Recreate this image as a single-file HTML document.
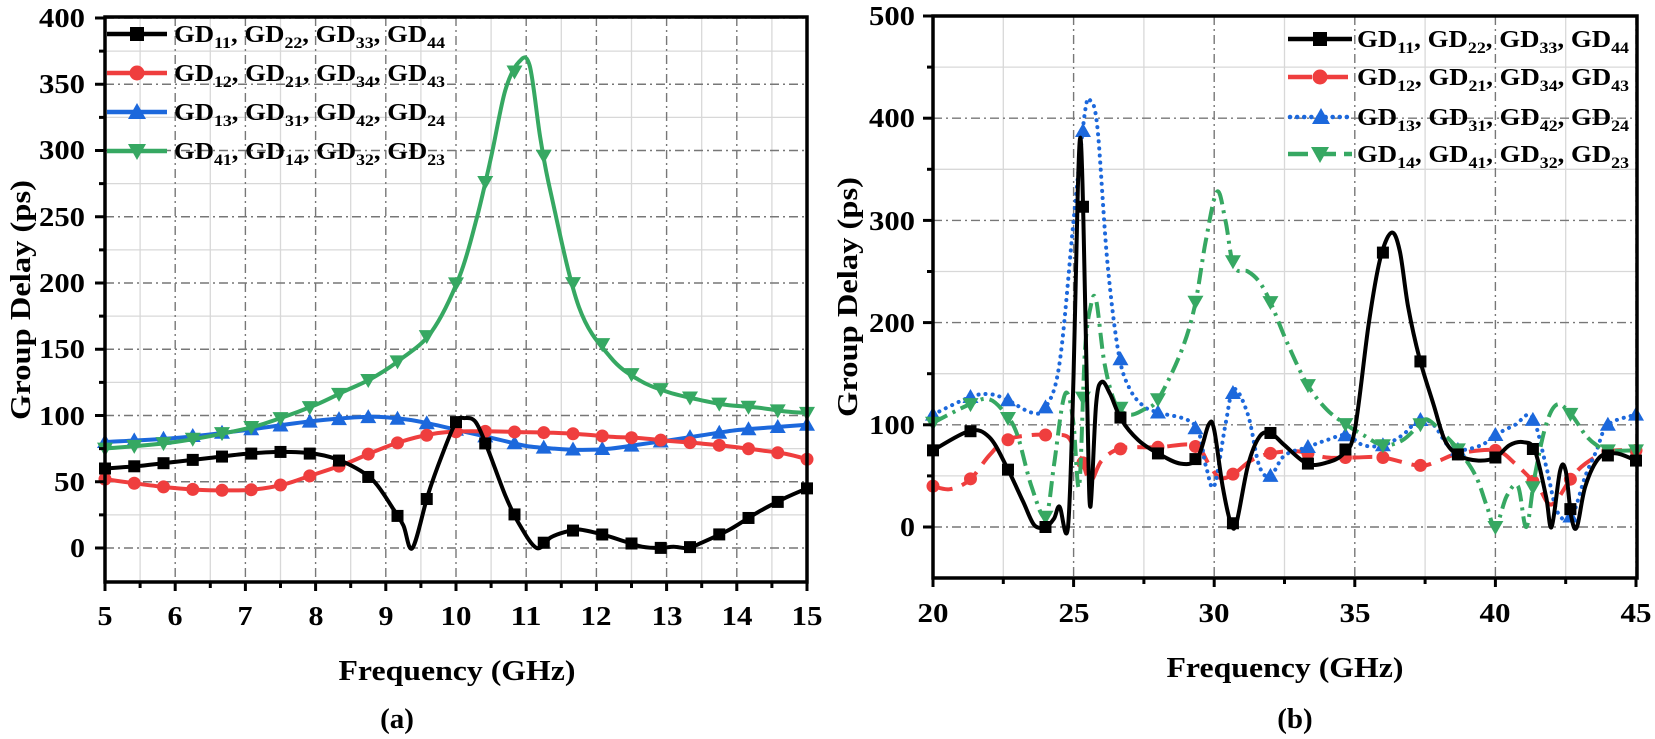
<!DOCTYPE html>
<html><head><meta charset="utf-8"><style>
html,body{margin:0;padding:0;background:#fff;}
svg{display:block;}
text{font-family:"Liberation Serif","Times New Roman",serif;font-weight:bold;fill:#000;}
</style></head><body>
<svg id="s" width="1655" height="739" viewBox="0 0 1655 739" xmlns="http://www.w3.org/2000/svg">
<g id="grid"></g>
<g id="series"></g>
<g id="axes"></g>
<g font-size="27" text-anchor="end">
<text x="85" y="27" textLength="46" lengthAdjust="spacingAndGlyphs">400</text>
<text x="85" y="93" textLength="46" lengthAdjust="spacingAndGlyphs">350</text>
<text x="85" y="159" textLength="46" lengthAdjust="spacingAndGlyphs">300</text>
<text x="85" y="226" textLength="46" lengthAdjust="spacingAndGlyphs">250</text>
<text x="85" y="292" textLength="46" lengthAdjust="spacingAndGlyphs">200</text>
<text x="85" y="358" textLength="46" lengthAdjust="spacingAndGlyphs">150</text>
<text x="85" y="425" textLength="46" lengthAdjust="spacingAndGlyphs">100</text>
<text x="85" y="491" textLength="31" lengthAdjust="spacingAndGlyphs">50</text>
<text x="85" y="557" textLength="15" lengthAdjust="spacingAndGlyphs">0</text>
</g>
<g font-size="27" text-anchor="middle">
<text x="105" y="625" textLength="15" lengthAdjust="spacingAndGlyphs">5</text>
<text x="175" y="625" textLength="15" lengthAdjust="spacingAndGlyphs">6</text>
<text x="245" y="625" textLength="15" lengthAdjust="spacingAndGlyphs">7</text>
<text x="316" y="625" textLength="15" lengthAdjust="spacingAndGlyphs">8</text>
<text x="386" y="625" textLength="15" lengthAdjust="spacingAndGlyphs">9</text>
<text x="456" y="625" textLength="31" lengthAdjust="spacingAndGlyphs">10</text>
<text x="526" y="625" textLength="31" lengthAdjust="spacingAndGlyphs">11</text>
<text x="596" y="625" textLength="31" lengthAdjust="spacingAndGlyphs">12</text>
<text x="667" y="625" textLength="31" lengthAdjust="spacingAndGlyphs">13</text>
<text x="737" y="625" textLength="31" lengthAdjust="spacingAndGlyphs">14</text>
<text x="807" y="625" textLength="31" lengthAdjust="spacingAndGlyphs">15</text>
</g>
<g font-size="27" text-anchor="end">
<text x="915" y="25" textLength="46" lengthAdjust="spacingAndGlyphs">500</text>
<text x="915" y="127" textLength="46" lengthAdjust="spacingAndGlyphs">400</text>
<text x="915" y="230" textLength="46" lengthAdjust="spacingAndGlyphs">300</text>
<text x="915" y="332" textLength="46" lengthAdjust="spacingAndGlyphs">200</text>
<text x="915" y="434" textLength="46" lengthAdjust="spacingAndGlyphs">100</text>
<text x="915" y="536" textLength="15" lengthAdjust="spacingAndGlyphs">0</text>
</g>
<g font-size="27" text-anchor="middle">
<text x="933" y="622" textLength="31" lengthAdjust="spacingAndGlyphs">20</text>
<text x="1074" y="622" textLength="31" lengthAdjust="spacingAndGlyphs">25</text>
<text x="1214" y="622" textLength="31" lengthAdjust="spacingAndGlyphs">30</text>
<text x="1355" y="622" textLength="31" lengthAdjust="spacingAndGlyphs">35</text>
<text x="1495" y="622" textLength="31" lengthAdjust="spacingAndGlyphs">40</text>
<text x="1636" y="622" textLength="31" lengthAdjust="spacingAndGlyphs">45</text>
</g>
<g font-size="29" text-anchor="middle">
<text x="457" y="680" textLength="237" lengthAdjust="spacingAndGlyphs">Frequency (GHz)</text>
<text x="1285" y="677" textLength="237" lengthAdjust="spacingAndGlyphs">Frequency (GHz)</text>
<text x="397" y="728">(a)</text>
<text x="1295" y="728">(b)</text>
<text transform="translate(30,300) rotate(-90)" textLength="240" lengthAdjust="spacingAndGlyphs">Group Delay (ps)</text>
<text transform="translate(857,297) rotate(-90)" textLength="240" lengthAdjust="spacingAndGlyphs">Group Delay (ps)</text>
</g>
<g font-size="24">
<text x="174" y="42" textLength="271" lengthAdjust="spacingAndGlyphs">GD<tspan font-size="16" dy="6">11</tspan><tspan dy="-6">, GD</tspan><tspan font-size="16" dy="6">22</tspan><tspan dy="-6">, GD</tspan><tspan font-size="16" dy="6">33</tspan><tspan dy="-6">, GD</tspan><tspan font-size="16" dy="6">44</tspan></text>
<text x="174" y="81" textLength="271" lengthAdjust="spacingAndGlyphs">GD<tspan font-size="16" dy="6">12</tspan><tspan dy="-6">, GD</tspan><tspan font-size="16" dy="6">21</tspan><tspan dy="-6">, GD</tspan><tspan font-size="16" dy="6">34</tspan><tspan dy="-6">, GD</tspan><tspan font-size="16" dy="6">43</tspan></text>
<text x="174" y="120" textLength="271" lengthAdjust="spacingAndGlyphs">GD<tspan font-size="16" dy="6">13</tspan><tspan dy="-6">, GD</tspan><tspan font-size="16" dy="6">31</tspan><tspan dy="-6">, GD</tspan><tspan font-size="16" dy="6">42</tspan><tspan dy="-6">, GD</tspan><tspan font-size="16" dy="6">24</tspan></text>
<text x="174" y="159" textLength="271" lengthAdjust="spacingAndGlyphs">GD<tspan font-size="16" dy="6">41</tspan><tspan dy="-6">, GD</tspan><tspan font-size="16" dy="6">14</tspan><tspan dy="-6">, GD</tspan><tspan font-size="16" dy="6">32</tspan><tspan dy="-6">, GD</tspan><tspan font-size="16" dy="6">23</tspan></text>
<text x="1357" y="47" textLength="272" lengthAdjust="spacingAndGlyphs">GD<tspan font-size="16" dy="6">11</tspan><tspan dy="-6">, GD</tspan><tspan font-size="16" dy="6">22</tspan><tspan dy="-6">, GD</tspan><tspan font-size="16" dy="6">33</tspan><tspan dy="-6">, GD</tspan><tspan font-size="16" dy="6">44</tspan></text>
<text x="1357" y="85" textLength="272" lengthAdjust="spacingAndGlyphs">GD<tspan font-size="16" dy="6">12</tspan><tspan dy="-6">, GD</tspan><tspan font-size="16" dy="6">21</tspan><tspan dy="-6">, GD</tspan><tspan font-size="16" dy="6">34</tspan><tspan dy="-6">, GD</tspan><tspan font-size="16" dy="6">43</tspan></text>
<text x="1357" y="125" textLength="272" lengthAdjust="spacingAndGlyphs">GD<tspan font-size="16" dy="6">13</tspan><tspan dy="-6">, GD</tspan><tspan font-size="16" dy="6">31</tspan><tspan dy="-6">, GD</tspan><tspan font-size="16" dy="6">42</tspan><tspan dy="-6">, GD</tspan><tspan font-size="16" dy="6">24</tspan></text>
<text x="1357" y="162" textLength="272" lengthAdjust="spacingAndGlyphs">GD<tspan font-size="16" dy="6">14</tspan><tspan dy="-6">, GD</tspan><tspan font-size="16" dy="6">41</tspan><tspan dy="-6">, GD</tspan><tspan font-size="16" dy="6">32</tspan><tspan dy="-6">, GD</tspan><tspan font-size="16" dy="6">23</tspan></text>
</g>
<g id="leg"></g>
</svg>
<script>
var NS="http://www.w3.org/2000/svg";
function el(p,t,a){var e=document.createElementNS(NS,t);for(var k in a)e.setAttribute(k,a[k]);p.appendChild(e);return e;}
var G=document.getElementById('grid'),S=document.getElementById('series'),A=document.getElementById('axes'),L=document.getElementById('leg');
var C={k:'#000',r:'#ef3e3e',b:'#1c68dc',g:'#36a862'};
var P1={x0:105,x1:807,y0:17,y1:582,fx:function(f){return 105+(f-5)*70.2},fy:function(v){return 548-1.325*v}};
var P2={x0:933,x1:1637,y0:16,y1:578,fx:function(f){return 933+(f-20)*28.12},fy:function(v){return 527-1.022*v}};
function grid(P,xs,xm,ys,ym){
 xm.forEach(function(f){var x=P.fx(f);el(G,'line',{x1:x,x2:x,y1:P.y0,y2:P.y1,stroke:'#d8d8d8','stroke-width':1.3});});
 ym.forEach(function(v){var y=P.fy(v);el(G,'line',{x1:P.x0,x2:P.x1,y1:y,y2:y,stroke:'#d8d8d8','stroke-width':1.3});});
 xs.forEach(function(f){var x=P.fx(f);el(G,'line',{x1:x,x2:x,y1:P.y0,y2:P.y1,stroke:'#777','stroke-width':1.4,'stroke-dasharray':'9 4 2 4'});});
 ys.forEach(function(v){var y=P.fy(v);el(G,'line',{x1:P.x0,x2:P.x1,y1:y,y2:y,stroke:'#777','stroke-width':1.4,'stroke-dasharray':'9 4 2 4'});});
 xs.concat(xm).forEach(function(f,i){var x=P.fx(f);var maj=i<xs.length;el(A,'line',{x1:x,x2:x,y1:P.y1,y2:P.y1+(maj?9:6),stroke:'#000','stroke-width':3});});
 ys.concat(ym).forEach(function(v,i){var y=P.fy(v);var maj=i<ys.length;el(A,'line',{x1:P.x0,x2:P.x0-(maj?10:6),y1:y,y2:y,stroke:'#000','stroke-width':3});});
 el(A,'rect',{x:P.x0,y:P.y0,width:P.x1-P.x0,height:P.y1-P.y0,fill:'none',stroke:'#000','stroke-width':3.5});
}
function rng(a,b,s){var r=[];for(var v=a;v<=b+1e-9;v+=s)r.push(+v.toFixed(4));return r;}
grid(P1,rng(5,15,1),rng(5.5,14.5,1),rng(0,400,50),rng(-25,375,50).filter(function(v){return v>-25}));
grid(P2,rng(20,45,5),rng(22.5,42.5,5),rng(0,500,100),rng(-50,450,100).filter(function(v){return v>-50}));
function path(P,d){var p=d.map(function(q){return [P.fx(q[0]),P.fy(q[1])]});var s='M'+p[0][0].toFixed(1)+','+p[0][1].toFixed(1);
 for(var i=0;i<p.length-1;i++){var a=p[Math.max(i-1,0)],b=p[i],c=p[i+1],e=p[Math.min(i+2,p.length-1)];var t=6;
  s+='C'+(b[0]+(c[0]-a[0])/t).toFixed(1)+','+(b[1]+(c[1]-a[1])/t).toFixed(1)+' '+(c[0]-(e[0]-b[0])/t).toFixed(1)+','+(c[1]-(e[1]-b[1])/t).toFixed(1)+' '+c[0].toFixed(1)+','+c[1].toFixed(1);}
 return s;}
function interp(d,f){for(var i=0;i<d.length-1;i++){if(f>=d[i][0]&&f<=d[i+1][0]){var t=(f-d[i][0])/(d[i+1][0]-d[i][0]);return d[i][1]+t*(d[i+1][1]-d[i][1]);}}return d[d.length-1][1];}
function marker(g,type,x,y,col,s){s=s||6;
 if(type=='s')el(g,'rect',{x:x-s,y:y-s,width:2*s,height:2*s,fill:col});
 else if(type=='c')el(g,'circle',{cx:x,cy:y,r:s+0.5,fill:col});
 else if(type=='u')el(g,'polygon',{points:(x)+','+(y-s-2)+' '+(x-s-2)+','+(y+s)+' '+(x+s+2)+','+(y+s),fill:col});
 else el(g,'polygon',{points:(x)+','+(y+s+2)+' '+(x-s-2)+','+(y-s)+' '+(x+s+2)+','+(y-s),fill:col});}
function series(P,d,col,dash,type,mx,cap){
 var a={d:path(P,d),fill:'none',stroke:col,'stroke-width':4,'stroke-linejoin':'round','stroke-linecap':cap||'butt'};if(dash)a['stroke-dasharray']=dash;
 var g=el(S,'g',{});el(g,'path',a);
 mx.forEach(function(f){marker(g,type,P.fx(f),P.fy(interp(d,f)),col);});}
var m1=rng(5,15,10/24);
var k1=[[5,60],[5.5,62],[6,65],[6.5,68],[7,71],[7.5,72.5],[8,71],[8.4,65],[8.8,52],[9.1,30],[9.25,17],[9.38,0],[9.6,40],[9.8,70],[10,95],[10.12,98],[10.28,95],[10.45,75],[10.7,40],[10.9,18],[11.15,0],[11.35,8],[11.55,12],[11.75,14],[12.1,10],[12.4,5],[12.65,1],[12.9,0],[13.1,1],[13.3,0],[13.5,4],[13.9,14],[14.3,27],[14.7,38],[15,45]];
var r1=[[5,52],[5.4,49],[5.85,46],[6.3,44],[6.7,43.5],[7.1,44],[7.55,48],[7.95,55],[8.4,63],[8.8,72],[9.2,80],[9.65,86],[10.05,88],[10.5,88],[10.9,87.5],[11.35,87],[11.75,86],[12.2,84],[12.6,83],[13,81],[13.45,79],[13.85,77],[14.3,74],[14.7,71],[15,67]];
var b1=[[5,80],[6,83],[7,89],[8,96],[8.8,99],[9.3,97],[9.7,93],[10.1,88],[10.6,82],[11,77],[11.4,75],[11.8,74],[12.2,75],[12.6,78],[13,81],[13.5,85],[14,89],[14.5,91],[15,93]];
var g1=[[5,75],[6,80],[7,90],[7.5,98],[8,108],[8.4,118],[8.8,128],[9.2,142],[9.65,163],[10.05,205],[10.3,250],[10.5,295],[10.7,345],[10.9,367],[11.05,364],[11.2,310],[11.35,268],[11.75,182],[12.2,144],[12.6,127],[13,118],[13.45,112],[13.85,108],[14.3,106],[14.7,103],[15,102]];
series(P1,b1,C.b,null,'u',m1);series(P1,r1,C.r,null,'c',m1);series(P1,k1,C.k,null,'s',m1);series(P1,g1,C.g,null,'d',m1);
var m2=rng(20,44,4/3).concat([45]);
var k2=[[20,75],[21.3,94],[22,88],[22.6,60],[23.2,25],[23.6,2],[24,0],[24.3,8],[24.5,20],[24.8,0],[25.0,150],[25.15,330],[25.25,380],[25.35,300],[25.5,100],[25.6,20],[25.8,120],[26.0,142],[26.3,130],[26.7,105],[27.3,85],[28,72],[28.8,62],[29.4,67],[29.8,100],[30.0,95],[30.3,40],[30.6,3],[30.8,5],[31.2,60],[31.6,88],[32,92],[32.5,80],[33.3,62],[34,63],[34.6,72],[35,95],[35.5,200],[35.9,262],[36.3,288],[36.6,270],[36.9,215],[37.3,165],[37.8,120],[38.2,85],[38.7,70],[39.4,65],[40,68],[40.5,80],[41,83],[41.4,75],[41.8,30],[42.0,0],[42.3,55],[42.5,55],[42.7,10],[42.9,0],[43.2,40],[43.7,68],[44.3,72],[45,65]];
var r2=[[20,40],[20.6,37],[21.3,46],[22,70],[22.6,85],[23.5,90],[24.3,90],[24.8,88],[25.1,72],[25.3,65],[25.6,45],[26,65],[26.7,77],[28,78],[29.3,80],[29.8,62],[30.2,48],[30.7,52],[31.3,65],[32,72],[33,74],[34,68],[35,68],[36,68],[37.3,60],[38,65],[38.7,72],[40,75],[40.7,62],[41.5,40],[42,22],[42.7,48],[43.2,62],[44,74],[45,75]];
var b2=[[20,110],[21.3,127],[22,130],[22.6,125],[23.5,112],[24,117],[24.5,160],[25,300],[25.4,405],[25.6,417],[25.85,390],[26.2,260],[26.6,170],[27,135],[27.5,118],[28,112],[29.3,100],[29.7,60],[30,40],[30.4,100],[30.7,135],[31.2,110],[31.6,60],[32,50],[32.5,70],[33.3,78],[34,85],[34.7,90],[35.3,80],[36,80],[36.7,90],[37.3,105],[37.8,100],[38.3,80],[38.7,75],[39.5,80],[40,90],[40.7,100],[41.3,108],[41.8,60],[42.2,15],[42.7,10],[43.2,50],[43.6,75],[44,100],[45,110]];
var g2=[[20,102],[21.3,120],[22,125],[22.6,110],[23,90],[23.5,40],[24,10],[24.3,60],[24.6,120],[24.8,130],[25.0,100],[25.2,40],[25.4,170],[25.6,215],[25.8,222],[26.1,160],[26.5,120],[27,110],[27.5,115],[28,125],[28.8,170],[29.3,215],[29.7,280],[30.1,328],[30.4,300],[30.7,255],[31.2,250],[31.6,240],[32,220],[32.6,180],[33.3,140],[34,115],[34.7,100],[35.3,90],[36,80],[36.7,85],[37.3,100],[37.6,105],[38.2,90],[38.7,75],[39.3,50],[39.7,20],[40,0],[40.4,30],[40.8,40],[41.1,0],[41.4,50],[41.8,100],[42.2,120],[42.7,110],[43.2,90],[43.6,80],[44,75],[45,75]];
series(P2,r2,C.r,'20 10','c',m2);
series(P2,b2,C.b,'0.1 7','u',m2,'round');
series(P2,g2,C.g,'16 6 3 6','d',m2);
series(P2,k2,C.k,null,'s',m2);
function leg(x1,x2,y,col,type,dash,cap){var a={x1:x1,x2:x2,y1:y,y2:y,stroke:col,'stroke-width':4.5,'stroke-linecap':cap||'butt'};if(dash)a['stroke-dasharray']=dash;el(L,'line',a);marker(L,type,(x1+x2)/2,y,col,7);}
leg(107,167,34,C.k,'s');leg(107,167,73,C.r,'c');leg(107,167,112,C.b,'u');leg(107,167,151,C.g,'d');
leg(1288,1352,39,C.k,'s');leg(1288,1352,77,C.r,'c','24 12');leg(1290,1352,117,C.b,'u','0.1 7','round');leg(1288,1352,154,C.g,'d','20 8');
</script>
</body></html>
